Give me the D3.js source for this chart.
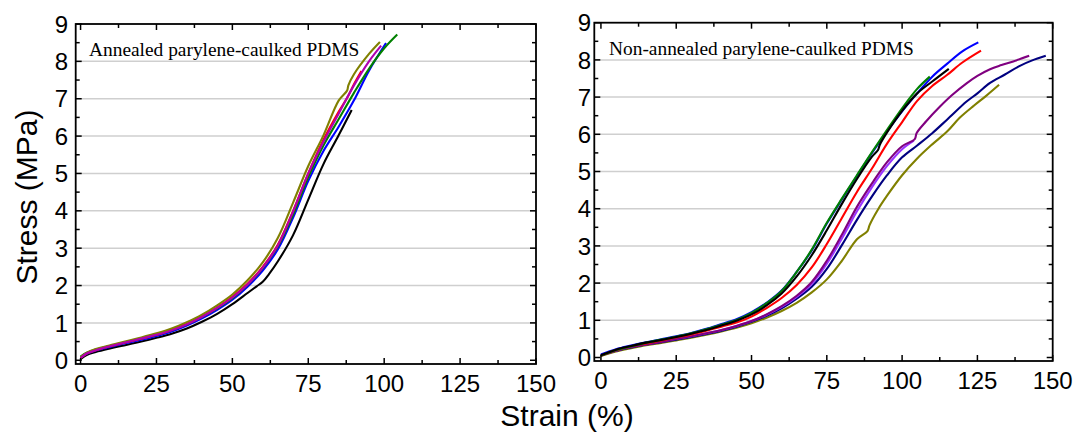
<!DOCTYPE html>
<html>
<head>
<meta charset="utf-8">
<script src="https://cdn.jsdelivr.net/npm/d3@7"></script>
<style>
  html, body { margin: 0; padding: 0; background: #fff; }
  svg { display: block; }
</style>
</head>
<body>
<svg id="chart" width="1077" height="432"></svg>
<script>
// ---------------- DATA ----------------
const xTicks = [0, 25, 50, 75, 100, 125, 150];
const yTicks = [0, 1, 2, 3, 4, 5, 6, 7, 8, 9];
const xLabel = "Strain (%)";
const yLabel = "Stress (MPa)";
const titleA = "Annealed parylene-caulked PDMS";
const titleB = "Non-annealed parylene-caulked PDMS";

// Panel A: annealed (strain %, stress MPa)
const aBlack = [[0,0.03],[2,0.14],[5,0.22],[10,0.32],[15,0.41],[20,0.5],[25,0.6],[30,0.71],[35,0.85],[40,1.03],[45,1.24],[50,1.5],[55,1.8],[58,1.98],[60,2.1],[62,2.3],[65,2.65],[70,3.35],[75,4.3],[80,5.25],[85,6.02],[89.3,6.7]];
const aBlue = [[0,0.07],[2,0.17],[5,0.26],[10,0.36],[15,0.46],[20,0.55],[25,0.65],[30,0.77],[35,0.93],[40,1.12],[45,1.35],[50,1.62],[55,1.97],[60,2.4],[65,2.97],[70,3.82],[75,4.8],[80,5.6],[85,6.25],[90,6.95],[95,7.75],[100.6,8.49]];
const aGreen = [[0,0.1],[2,0.2],[5,0.29],[10,0.39],[15,0.49],[20,0.58],[25,0.68],[30,0.8],[35,0.96],[40,1.16],[45,1.39],[50,1.66],[55,2.02],[60,2.47],[65,3.05],[70,3.9],[75,4.9],[80,5.75],[85,6.45],[90,7.15],[95,7.8],[100,8.35],[104.3,8.72]];
const aRed = [[0,0.06],[2,0.18],[5,0.27],[10,0.38],[15,0.48],[20,0.58],[25,0.68],[30,0.81],[35,0.97],[40,1.17],[45,1.41],[50,1.7],[55,2.05],[60,2.5],[65,3.1],[70,4.0],[75,5.0],[80,5.9],[85,6.65],[88,7.05],[90,7.38],[92.5,7.74]];
const aOlive = [[0,0.08],[2,0.2],[5,0.3],[10,0.41],[15,0.51],[20,0.61],[25,0.72],[30,0.85],[35,1.02],[40,1.22],[45,1.47],[50,1.76],[55,2.14],[60,2.62],[65,3.28],[70,4.22],[75,5.2],[80,6.02],[85,6.95],[87.8,7.22],[88.2,7.36],[90,7.65],[95,8.2],[98.6,8.52]];
const aMagenta = [[0,0.06],[2,0.18],[5,0.27],[10,0.38],[15,0.48],[20,0.58],[25,0.68],[30,0.8],[35,0.96],[40,1.16],[45,1.4],[50,1.68],[55,2.03],[60,2.48],[65,3.08],[70,3.98],[75,5.0],[80,5.85],[85,6.6],[90,7.35],[95,8.0],[99,8.42]];

// Panel B: non-annealed (strain %, stress MPa)
const bBlue = [[0,0.08],[5,0.22],[10,0.32],[15,0.41],[20,0.49],[25,0.57],[30,0.66],[35,0.77],[40,0.9],[45,1.03],[50,1.22],[55,1.47],[60,1.8],[65,2.3],[70,2.88],[75,3.6],[80,4.25],[85,4.88],[90,5.5],[95,6.08],[100,6.62],[105,7.1],[110,7.55],[115,7.9],[120,8.23],[125.3,8.47]];
const bGreen = [[0,0.05],[5,0.2],[10,0.3],[15,0.4],[20,0.48],[25,0.56],[30,0.65],[35,0.76],[40,0.88],[45,1.01],[50,1.2],[55,1.46],[60,1.79],[65,2.3],[70,2.9],[75,3.62],[80,4.27],[85,4.9],[90,5.52],[95,6.12],[100,6.7],[105,7.22],[109.2,7.55]];
const bBlack = [[0,0.06],[5,0.21],[10,0.31],[15,0.4],[20,0.47],[25,0.55],[30,0.64],[35,0.74],[40,0.86],[45,0.99],[50,1.16],[55,1.4],[60,1.72],[65,2.18],[70,2.75],[75,3.42],[80,4.13],[85,4.8],[90,5.4],[92,5.58],[92.6,5.72],[95,6.05],[100,6.63],[105,7.1],[110,7.42],[115.5,7.76]];
const bRed = [[0,0.05],[5,0.2],[10,0.3],[15,0.38],[20,0.46],[25,0.54],[30,0.62],[35,0.72],[40,0.83],[45,0.94],[50,1.1],[55,1.33],[60,1.6],[65,1.95],[70,2.42],[75,3.05],[80,3.75],[85,4.45],[90,5.08],[95,5.75],[100,6.33],[105,6.9],[110,7.3],[115,7.6],[120,7.93],[126.2,8.25]];
const bOlive = [[0,0.04],[5,0.16],[10,0.25],[15,0.33],[20,0.39],[25,0.46],[30,0.53],[35,0.61],[40,0.7],[45,0.8],[50,0.92],[55,1.07],[60,1.25],[65,1.47],[70,1.75],[75,2.1],[80,2.6],[85,3.18],[88.5,3.4],[89.2,3.56],[92,3.98],[95,4.35],[100,4.9],[105,5.35],[110,5.73],[115,6.08],[119.2,6.45],[124,6.78],[128,7.04],[132.2,7.33]];
const bNavy = [[0,0.06],[5,0.18],[10,0.27],[15,0.35],[20,0.41],[25,0.48],[30,0.55],[35,0.63],[40,0.72],[45,0.83],[50,0.96],[55,1.12],[60,1.32],[65,1.58],[70,1.9],[75,2.38],[80,3.02],[85,3.7],[90,4.33],[95,4.9],[100,5.38],[105,5.7],[110,6.03],[115,6.4],[121.4,6.88],[125,7.1],[129.2,7.38],[134,7.6],[139.1,7.84],[143,7.98],[147.7,8.11]];
const bViolet = [[0,0.07],[5,0.19],[10,0.29],[15,0.36],[20,0.43],[25,0.5],[30,0.57],[35,0.65],[40,0.74],[45,0.85],[50,0.98],[55,1.15],[60,1.36],[65,1.63],[70,1.98],[75,2.52],[80,3.2],[85,3.93],[90,4.58],[95,5.15],[100,5.6],[103.9,5.83]];
const bPurple = [[0,0.05],[5,0.18],[10,0.28],[15,0.35],[20,0.42],[25,0.5],[30,0.57],[35,0.65],[40,0.74],[45,0.85],[50,0.98],[55,1.16],[60,1.38],[65,1.66],[70,2.03],[75,2.6],[80,3.3],[85,4.05],[90,4.68],[95,5.25],[100,5.68],[104.2,5.87],[104.8,6.03],[108,6.35],[112.5,6.74],[116.5,7.05],[121.4,7.37],[125,7.57],[129.2,7.75],[133,7.86],[136.9,7.96],[142.2,8.11]];

// ---------------- LAYOUT ----------------
const panels = [
  { px: [75.7, 536], py: [364, 24], xd: [-1.6, 150], yd: [-0.1, 9], title: titleA, tx: 89, ty: 56, labEnd: 68,
    series: [
      { d: aBlack, c: "#000000" }, { d: aBlue, c: "#0000ff" }, { d: aGreen, c: "#008000" },
      { d: aRed, c: "#ff0000" }, { d: aOlive, c: "#808000" }, { d: aMagenta, c: "#b000b0" }
    ] },
  { px: [594.3, 1052.7], py: [361, 22.7], xd: [-2.2, 150], yd: [-0.094, 9], title: titleB, tx: 609, ty: 55, labEnd: 591,
    series: [
      { d: bOlive, c: "#808000" }, { d: bNavy, c: "#000080" }, { d: bViolet, c: "#9933ff" }, { d: bPurple, c: "#800080" },
      { d: bBlue, c: "#0000ff" }, { d: bRed, c: "#ff0000" }, { d: bGreen, c: "#008000" }, { d: bBlack, c: "#000000" }
    ] }
];

const svg = d3.select("#chart");
const sans = "Arial, 'Liberation Sans', sans-serif";
const serif = "'Times New Roman', 'Liberation Serif', serif";

const xMinor = d3.range(0, 150.1, 12.5);
const yMinor = d3.range(0, 9.01, 0.5);

panels.forEach(p => {
  const x = d3.scaleLinear().domain(p.xd).range(p.px);
  const y = d3.scaleLinear().domain(p.yd).range(p.py);
  const g = svg.append("g");
  const [x0, x1] = p.px, [yb, yt] = p.py;

  // gridlines
  g.append("g").selectAll("line").data(yTicks.filter(v => v > 0 && v < 9)).join("line")
    .attr("x1", x0).attr("x2", x1).attr("y1", d => y(d)).attr("y2", d => y(d))
    .attr("stroke", "#cfcfcf").attr("stroke-width", 1.5);

  // curves
  const line = d3.line().x(d => x(d[0])).y(d => y(d[1])).curve(d3.curveCatmullRom.alpha(0.5));
  g.append("g").selectAll("path").data(p.series).join("path")
    .attr("d", s => line(s.d)).attr("fill", "none")
    .attr("stroke", s => s.c).attr("stroke-width", 2.1).attr("stroke-linejoin", "round");

  // ticks (inward) on all four sides
  const tickStyle = sel => sel.attr("stroke", "#000").attr("stroke-width", 1.5);
  const isMajX = v => Math.abs(v % 25) < 1e-6;
  const isMajY = v => Math.abs(v % 1) < 1e-6;
  g.append("g").selectAll("line").data(xMinor).join("line")
    .attr("x1", d => x(d)).attr("x2", d => x(d)).attr("y1", yb).attr("y2", d => yb - (isMajX(d) ? 6 : 4)).call(tickStyle);
  g.append("g").selectAll("line").data(xMinor).join("line")
    .attr("x1", d => x(d)).attr("x2", d => x(d)).attr("y1", yt).attr("y2", d => yt + (isMajX(d) ? 6 : 4)).call(tickStyle);
  g.append("g").selectAll("line").data(yMinor).join("line")
    .attr("y1", d => y(d)).attr("y2", d => y(d)).attr("x1", x0).attr("x2", d => x0 + (isMajY(d) ? 6 : 4)).call(tickStyle);
  g.append("g").selectAll("line").data(yMinor).join("line")
    .attr("y1", d => y(d)).attr("y2", d => y(d)).attr("x1", x1).attr("x2", d => x1 - (isMajY(d) ? 6 : 4)).call(tickStyle);

  // frame
  g.append("rect").attr("x", x0).attr("y", yt).attr("width", x1 - x0).attr("height", yb - yt)
    .attr("fill", "none").attr("stroke", "#000").attr("stroke-width", 1.8);

  // tick labels
  g.append("g").selectAll("text").data(xTicks).join("text")
    .attr("x", d => x(d)).attr("y", yb + 28).attr("text-anchor", "middle")
    .attr("font-family", sans).attr("font-size", 24).text(d => d);
  g.append("g").selectAll("text").data(yTicks).join("text")
    .attr("x", p.labEnd).attr("y", d => y(d) + 8.6).attr("text-anchor", "end")
    .attr("font-family", sans).attr("font-size", 24).text(d => d);

  // panel title
  g.append("text").attr("x", p.tx).attr("y", p.ty).attr("font-family", serif)
    .attr("font-size", 19.4).text(p.title);
});

// axis titles
svg.append("text").attr("x", 567).attr("y", 426).attr("text-anchor", "middle")
  .attr("font-family", sans).attr("font-size", 30).text(xLabel);
svg.append("text").attr("transform", "translate(37,197) rotate(-90)").attr("text-anchor", "middle")
  .attr("font-family", sans).attr("font-size", 30).text(yLabel);
</script>
</body>
</html>
